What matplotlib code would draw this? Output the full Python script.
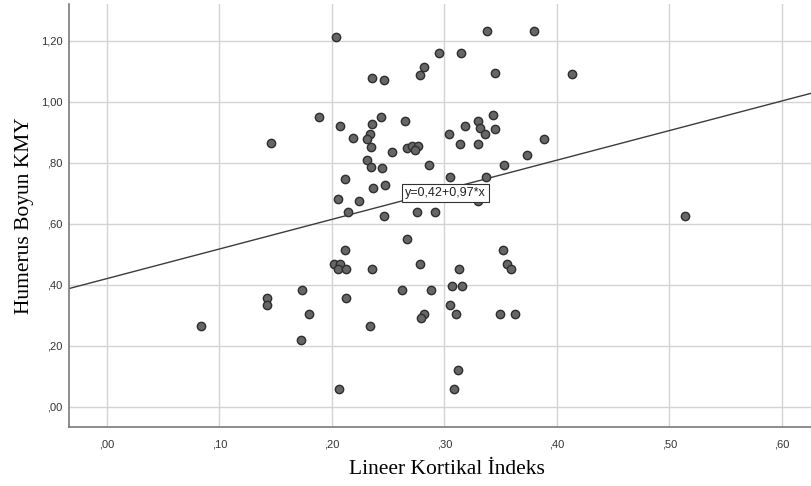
import numpy as np
import matplotlib.pyplot as plt
from matplotlib.ticker import FixedLocator, FixedFormatter

# DATA

lki = [0.2033, 0.2356, 0.1884, 0.2074, 0.2356, 0.2184, 0.2335, 0.2314, 0.1460, 0.2347,
       0.2314, 0.2347, 0.2447, 0.2116, 0.2367, 0.2056, 0.2237, 0.2147, 0.2436, 0.3380,
       0.3793, 0.2948, 0.3147, 0.2818, 0.2785, 0.3449, 0.2465, 0.2646, 0.2536, 0.2664,
       0.2714, 0.2767, 0.2735, 0.2860, 0.2474, 0.2460, 0.2758, 0.2913, 0.3040, 0.3180,
       0.3298, 0.3428, 0.3316, 0.3360, 0.3449, 0.3138, 0.3298, 0.3889, 0.3731, 0.3529,
       0.3049, 0.3369, 0.3298, 0.4131, 0.5144, 0.2113, 0.2020, 0.2074, 0.2053, 0.2124,
       0.2356, 0.1733, 0.1425, 0.1425, 0.2124, 0.1796, 0.0833, 0.2335, 0.1724, 0.2065,
       0.2667, 0.2779, 0.2625, 0.2877, 0.2818, 0.2788, 0.3067, 0.3156, 0.3129, 0.3049,
       0.3100, 0.3120, 0.3087, 0.3520, 0.3558, 0.3591, 0.3496, 0.3629]

kmy = [1.213, 1.078, 0.949, 0.920, 0.927, 0.881, 0.894, 0.879, 0.864, 0.850,
       0.809, 0.787, 0.783, 0.746, 0.717, 0.681, 0.675, 0.638, 0.949, 1.232,
       1.232, 1.159, 1.159, 1.114, 1.088, 1.093, 1.070, 0.937, 0.834, 0.849,
       0.855, 0.855, 0.842, 0.792, 0.727, 0.625, 0.638, 0.638, 0.894, 0.920,
       0.937, 0.957, 0.913, 0.894, 0.910, 0.860, 0.860, 0.878, 0.826, 0.793,
       0.754, 0.754, 0.674, 1.092, 0.624, 0.514, 0.467, 0.467, 0.451, 0.451,
       0.451, 0.382, 0.356, 0.334, 0.356, 0.303, 0.265, 0.265, 0.220, 0.059,
       0.550, 0.467, 0.382, 0.382, 0.303, 0.290, 0.395, 0.395, 0.452, 0.334,
       0.303, 0.120, 0.059, 0.514, 0.467, 0.452, 0.303, 0.303]

intercept = 0.42
slope = 0.97

x_ticks = [0.0, 0.1, 0.2, 0.3, 0.4, 0.5, 0.6]
x_tick_labels = [',00', ',10', ',20', ',30', ',40', ',50', ',60']
y_ticks = [0.0, 0.2, 0.4, 0.6, 0.8, 1.0, 1.2]
y_tick_labels = [',00', ',20', ',40', ',60', ',80', '1,00', '1,20']

# PLOT

fig = plt.figure(figsize=(8.11, 4.86), dpi=100)
ax = fig.add_axes([0.0855, 0.1208, 0.9145, 0.871])

x_min, x_max = -0.0335, 0.626
y_min, y_max = -0.0675, 1.32

ax.grid(True, color='#d4d4d4', linewidth=1.0)
ax.set_axisbelow(True)

# regression line
fit_x = np.array([x_min, x_max])
ax.plot(fit_x, intercept + slope*fit_x, color='#3c3c3c', linewidth=1.0, zorder=2)

ax.plot(lki, kmy, linestyle='none', marker='o', markersize=6,
        markerfacecolor='#666666', markeredgecolor='#2e2e2e', markeredgewidth=1.0, zorder=3)

# equation label on the line
lx = 0.265
ax.text(lx, intercept + slope*lx + 0.004, 'y=0,42+0,97*x', fontsize=9, family='Liberation Sans',
        ha='left', va='bottom', color='#222222', zorder=4,
        bbox=dict(boxstyle='square,pad=0.22', facecolor='white', edgecolor='#333333', linewidth=0.8))

ax.set_xlim(x_min, x_max)
ax.set_ylim(y_min, y_max)

ax.xaxis.set_major_locator(FixedLocator(x_ticks))
ax.xaxis.set_major_formatter(FixedFormatter(x_tick_labels))
ax.yaxis.set_major_locator(FixedLocator(y_ticks))
ax.yaxis.set_major_formatter(FixedFormatter(y_tick_labels))

for lab in ax.get_xticklabels() + ax.get_yticklabels():
    lab.set_family('Liberation Sans')
    lab.set_fontsize(8)
    lab.set_color('#333333')
ax.tick_params(axis='x', length=0, pad=9)
ax.tick_params(axis='y', length=0, pad=5)

for side in ['top', 'right']:
    ax.spines[side].set_visible(False)
for side in ['left', 'bottom']:
    ax.spines[side].set_color('#7a7a7a')
    ax.spines[side].set_linewidth(1.2)

ax.set_xlabel('Lineer Kortikal İndeks', fontsize=15.5, family='Liberation Serif')
ax.xaxis.set_label_coords(0.509, -0.077)
ax.set_ylabel('Humerus Boyun KMY', fontsize=15.5, family='Liberation Serif', labelpad=5)

plt.savefig('out.png', dpi=100)
